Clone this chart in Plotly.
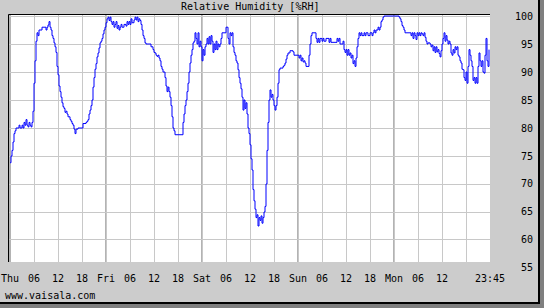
import plotly.graph_objects as go

# hours since Thu 00:00
hours = [0.0,0.25,0.5,0.75,1.0,1.25,1.5,2.0,2.25,2.5,3.0,3.25,3.5,3.75,4.0,4.25,4.5,4.75,5.0,5.25,5.5,5.75,
6.0,6.25,6.5,6.75,7.0,7.25,7.5,8.0,8.5,8.75,9.0,9.25,9.5,9.75,10.0,10.25,10.5,10.75,11.0,11.25,11.5,11.75,
12.0,12.25,12.5,12.75,13.0,13.25,13.5,13.75,14.0,14.25,14.5,14.75,15.0,15.25,15.5,15.75,16.0,16.25,16.5,17,17.5,
18,18.25,18.5,19,19.25,19.5,19.75,20.0,20.25,20.5,20.75,21.0,21.25,21.5,21.75,22.0,22.25,22.5,22.75,23.0,23.25,
23.5,23.75,24.0,24.25,24.5,24.75,25.0,25.25,25.5,25.75,26,26.25,26.5,26.75,27,27.25,27.5,27.75,28,28.5,29,29.25,
29.5,29.75,30,30.25,30.5,31,31.25,31.5,31.75,32,32.25,32.5,
32.75,33.0,33.25,33.5,33.75,34.0,34.5,35.0,35.25,35.5,35.75,36.0,36.25,36.5,36.75,37,37.25,37.5,37.75,38,38.25,
38.5,38.75,39.0,39.25,39.5,39.75,40.0,40.25,40.5,40.75,41.0,41.25,42,43,43.25,43.5,43.75,44.0,44.25,44.5,44.75,
45.0,45.25,45.5,45.75,46.0,46.25,46.5,46.75,47.0,47.25,47.5,47.75,48.0,48.25,48.5,48.75,49,49.25,49.5,49.75,50,
50.25,50.5,50.75,51,51.25,51.5,51.75,52,52.25,52.5,52.75,53,53.5,54,54.25,54.5,54.75,55,55.25,55.5,55.75,56,
56.25,56.5,56.75,57,57.25,57.5,57.75,58,58.25,58.5,58.75,59,59.25,59.5,59.75,60,60.25,60.5,60.75,61.0,61.25,
61.5,61.75,62,62.25,62.5,62.75,63,63.25,63.5,63.75,64,64.25,64.5,64.75,65,65.25,65.5,65.75,66,66.25,66.5,66.75,
67,67.25,67.5,68,68.25,68.5,68.75,69,69.25,69.5,70,70.5,70.75,71,71.5,72,72.25,72.5,72.75,73,73.25,73.5,73.75,
74,74.5,74.75,75,75.25,75.5,76,76.25,76.5,76.75,77,77.25,77.5,78,78.25,78.5,79,79.5,79.75,80,80.25,80.5,81,
81.5,81.75,82,82.25,82.5,83,83.25,83.5,83.75,84,84.25,84.5,84.75,85,85.25,85.5,85.75,86,86.25,86.5,86.75,87,
87.25,87.5,87.75,88,88.5,88.75,89,89.5,90,90.5,90.75,91,91.25,91.5,92,92.25,92.5,92.75,93,93.25,93.5,94,95,96,
97,97.25,97.5,97.75,98,98.25,98.5,98.75,99.5,100,100.25,100.5,100.75,101,101.25,101.5,101.75,102,102.25,102.5,
102.75,103,103.25,103.5,103.75,104,104.25,104.5,105,105.25,105.5,105.75,106,106.25,106.5,106.75,107,107.25,
107.5,107.75,108,108.25,108.5,108.75,109,109.25,109.5,109.75,110,110.25,110.5,110.75,111,111.25,111.5,111.75,
112,112.25,112.5,112.75,113,113.25,113.5,113.75,114,114.25,114.5,114.75,115,115.25,115.5,115.75,116,116.25,
116.5,116.75,117,117.25,117.5,117.75,118,118.25,118.5,118.75,119,119.25,119.5,119.75]

rh = [73.8,75,76,77.5,79,79.5,80,80,80.5,80,80.5,80,81,80.5,81.5,80.5,80.2,81,80.5,80.2,81,83,
88,92,95.5,97,96.5,97.5,97.5,98,98,98,97.5,98,98.4,99,98,97.5,96.5,96,95.2,94.5,93.5,91,
89.5,87.5,86.5,85.5,84.5,83.8,83.5,82.8,83,82.5,82,82,81.5,81.2,80.8,80.5,79.8,79,79.8,80,80,
80,80.8,80.8,81,81.2,81.5,82.5,83.2,84,85,87.3,89,90.5,91.5,92.7,93.4,94.3,95.2,95.5,96,96.8,
97.5,98,98.8,99.5,99.8,99.2,99.8,99,98.5,99,98,98.5,99,97.8,98.3,97.5,98,98.5,98,98.5,98.2,99,
98.5,99,98.5,99.5,98.8,99.3,99.8,99.3,99.8,99,99.5,99.2,
98.5,97.5,96.5,96,95.2,95,95,95,94.5,94.5,94,93.5,93.4,93,92.8,93,92.5,92,91,90.5,90,
90,89,87.5,86.5,87.3,86.5,85.5,84,82,80,79.5,78.8,78.8,78.8,81,82.5,84,85,86.5,88,90,
91.6,93,94,95.2,95.5,97,96,95,97,94.5,95.5,94.5,92,94,93,94.5,95,96,95,96.3,95,
96.5,95.5,93.5,95,94,95.5,94,95,94.5,95,96,97,97,98,98,96,95,97,96.5,97,94.5,93.5,
93,92,91.6,90.4,89,88,87,85.5,83.2,85,83.5,84.5,82.5,80,79,77,74.5,72.5,69,67,65.5,
64,64.5,62.5,64,63.5,64.3,63,64,65,66,70,76,81,85,86.8,85.5,86,85,84,83.2,84,85.5,
88,90.4,90.7,90.7,91,91.2,91.6,92.3,93,93.4,93.8,93.8,93.6,93,93,93,92.5,93,92,92.5,91.8,92,91.6,
91,91,93,95,96.5,97,97,97,96,95.3,96,95.3,96,95.5,96,95.5,96,96,95.3,96,95.3,95.3,95.3,
95.3,96,95.5,96,95,95,95.5,94,93.5,94,93,94,93,93.4,92.5,93,91.5,92,91,92.5,94.5,96,
97,96.5,97,96.5,97,96.5,97,96.5,97,96.5,97,97.5,97,97.5,98,97.5,98,99,99.3,99.8,100,100,100,100,
100,99.8,99.5,99,98.3,98,97.5,97,97,97,96.5,97,96,97,96.5,95.8,97,96.5,97,96.5,
97,96.8,96.5,97,96.2,95.5,95,95.2,95,94.5,94.8,93.8,94.5,93.5,94.5,93.6,94,93.3,
92.7,93.8,95,96,97,95.5,96.5,95.7,95,95.5,95,93.4,93,94,93.4,94.5,94,94.5,
93,92.7,92,91.6,90.5,90.4,89,88.5,90,88,91,94,93,92,91,88.5,89,88,
89,88,91,93.4,92,91,92,90,89.8,93,96,92,91,94]

x_tick_vals = list(range(0, 120, 6))
x_tick_text = ["Thu", "06", "12", "18", "Fri", "06", "12", "18", "Sat", "06", "12", "18",
               "Sun", "06", "12", "18", "Mon", "06", "12", ""]
day_vals = [0, 24, 48, 72, 96]
end_label = "23:45"
y_tick_vals = [55, 60, 65, 70, 75, 80, 85, 90, 95, 100]

W, H = 544, 308
L, R, T, B = 9, 54, 14, 46
pw, ph = W - L - R, H - T - B
YMIN, YMAX = 56.07, 100.36
XMIN, XMAX = -0.25, 120.0

def px(xp):
    return (xp - L) / pw

def py(yp):
    return (H - B - yp) / ph

def vy(v):
    return (v - YMIN) / (YMAX - YMIN)

font = dict(family="DejaVu Sans Mono", size=10, color="black")
grey = "#cccccc"

fig = go.Figure()
fig.add_trace(go.Scatter(x=hours, y=rh, mode="lines", line=dict(color="#0000ff", width=1, shape="hv"),
                         hoverinfo="skip", showlegend=False))

shapes = []
for d in day_vals:
    shapes.append(dict(type="line", xref="x", yref="paper", x0=d, x1=d, y0=0, y1=1,
                       line=dict(color="#9a9a9a", width=1.5), layer="between"))
# frame lines (top/left black)
shapes.append(dict(type="line", xref="paper", yref="paper", x0=px(8.5), x1=1, y0=py(14.5), y1=py(14.5),
                   line=dict(color="black", width=1), layer="above"))
shapes.append(dict(type="line", xref="paper", yref="paper", x0=px(8.5), x1=px(8.5), y0=0, y1=py(14.5),
                   line=dict(color="black", width=1), layer="above"))
# outer shadow
shapes.append(dict(type="rect", xref="paper", yref="paper", x0=px(538), x1=px(540), y0=py(308), y1=py(0),
                   fillcolor="black", line=dict(width=0), layer="above"))
shapes.append(dict(type="rect", xref="paper", yref="paper", x0=px(540), x1=px(545), y0=py(308), y1=py(0),
                   fillcolor="#7f7f7f", line=dict(width=0), layer="above"))
shapes.append(dict(type="rect", xref="paper", yref="paper", x0=px(0), x1=px(540), y0=py(304), y1=py(302),
                   fillcolor="black", line=dict(width=0), layer="above"))
shapes.append(dict(type="rect", xref="paper", yref="paper", x0=px(-1), x1=px(545), y0=py(309), y1=py(304),
                   fillcolor="#7f7f7f", line=dict(width=0), layer="above"))

ann = []
for v, t in zip(x_tick_vals, x_tick_text):
    if t:
        ann.append(dict(x=v, y=py(278), xref="x", yref="paper", text=t, showarrow=False,
                        xanchor="center", yanchor="middle", font=font))
ann.append(dict(x=120, y=py(278), xref="x", yref="paper", text=end_label, showarrow=False,
                xanchor="center", yanchor="middle", font=font))
for v in y_tick_vals:
    ann.append(dict(x=px(535), y=vy(v), xref="paper", yref="paper", text=str(v), showarrow=False,
                    xanchor="right", yanchor="middle", font=font))
ann.append(dict(x=px(249.5), y=py(7), xref="paper", yref="paper", text="Relative Humidity [%RH]",
                showarrow=False, xanchor="center", yanchor="middle", font=font))
ann.append(dict(x=px(3), y=py(295), xref="paper", yref="paper", text="www.vaisala.com",
                showarrow=False, xanchor="left", yanchor="middle", font=font))

fig.update_layout(
    width=W, height=H, margin=dict(l=L, r=R, t=T, b=B, pad=0),
    paper_bgcolor=grey, plot_bgcolor="white",
    xaxis=dict(range=[XMIN, XMAX], tickvals=x_tick_vals, showticklabels=False, showgrid=True,
               gridcolor="#c8c8c8", gridwidth=1, zeroline=False, showline=False, ticks="", fixedrange=True),
    yaxis=dict(range=[YMIN, YMAX], tickvals=y_tick_vals, showticklabels=False, showgrid=True,
               gridcolor="#c8c8c8", gridwidth=1, zeroline=False, showline=False, ticks="", fixedrange=True),
    shapes=shapes, annotations=ann, showlegend=False,
)
fig.write_html("out.html")
